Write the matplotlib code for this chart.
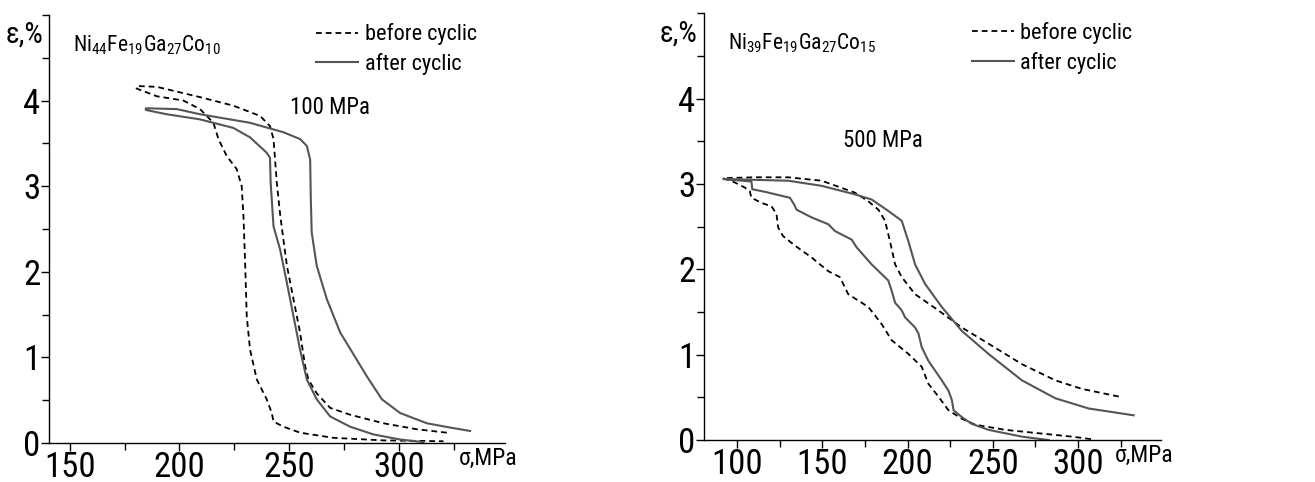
import numpy as np
import matplotlib.pyplot as plt
from matplotlib.ticker import MultipleLocator

FAMS = ['Liberation Sans Narrow', 'Roboto Condensed', 'DejaVu Sans']
plt.rcParams['font.family'] = FAMS
plt.rcParams['mathtext.fontset'] = 'custom'
plt.rcParams['mathtext.rm'] = 'Roboto Condensed'
plt.rcParams['mathtext.it'] = 'Roboto Condensed'

# --- left panel: Ni44Fe19Ga27Co10, 100 MPa ---
# before cyclic, upper (loading) branch
l_bef_up_x = [180.5, 189.7, 209.4, 224.6, 236.8, 241.3, 242.9, 244.4, 246.0, 249.0, 252.0,
              255.0, 257.3, 258.8, 262.6, 268.7, 277.8, 293.0, 308.2, 321.9]
l_bef_up_y = [4.17, 4.16, 4.04, 3.94, 3.82, 3.70, 3.55, 3.04, 2.65, 2.07, 1.68,
              1.29, 0.90, 0.74, 0.58, 0.41, 0.33, 0.23, 0.16, 0.12]
# before cyclic, lower branch
l_bef_lo_x = [180.5, 189.7, 201.8, 209.4, 215.5, 217.8, 221.6, 226.1, 228.4, 229.2, 230.0,
              230.7, 232.2, 235.3, 239.8, 242.1, 242.9, 247.4, 255.0, 270.2, 293.0, 320.4]
l_bef_lo_y = [4.14, 4.05, 4.00, 3.90, 3.74, 3.55, 3.35, 3.20, 3.00, 2.65, 2.07,
              1.48, 1.09, 0.74, 0.51, 0.35, 0.25, 0.19, 0.12, 0.06, 0.03, 0.02]
# after cyclic
l_aft_up_x = [184.7, 198.8, 209.4, 232.2, 247.4, 255.0, 258.1, 259.6, 259.9, 260.3, 262.6,
              267.2, 273.3, 280.9, 285.4, 292.3, 300.6, 312.8, 323.4, 332.5]
l_aft_up_y = [3.91, 3.90, 3.84, 3.74, 3.63, 3.55, 3.47, 3.31, 2.85, 2.46, 2.07,
              1.68, 1.29, 0.97, 0.78, 0.51, 0.35, 0.23, 0.18, 0.14]
l_aft_lo_x = [184.7, 194.2, 209.4, 224.6, 232.2, 239.8, 241.3, 241.6, 242.9, 245.9, 249.0,
              252.0, 255.0, 258.1, 262.6, 268.7, 277.8, 288.4, 300.6, 311.2]
l_aft_lo_y = [3.89, 3.84, 3.78, 3.68, 3.57, 3.39, 3.33, 3.04, 2.53, 2.26, 1.87,
              1.48, 1.09, 0.74, 0.51, 0.31, 0.19, 0.10, 0.04, 0.01]

# --- right panel: Ni39Fe19Ga27Co15, 500 MPa ---
r_bef_up_x = [91.8, 110.4, 130.0, 149.6, 169.1, 176.9, 182.9, 186.8, 189.7, 192.7, 196.6,
              204.4, 218.1, 231.8, 247.5, 267.1, 286.7, 302.3, 323.9]
r_bef_up_y = [3.07, 3.08, 3.08, 3.04, 2.90, 2.80, 2.70, 2.57, 2.33, 2.06, 1.91,
              1.71, 1.52, 1.32, 1.13, 0.89, 0.70, 0.60, 0.51]
r_bef_lo_x = [91.8, 98.6, 104.5, 107.4, 108.4, 114.3, 120.2, 123.1, 124.1, 127.0, 133.9,
              143.7, 153.5, 160.3, 165.2, 177.0, 184.8, 190.7, 200.5, 208.3, 212.2,
              218.1, 224.0, 231.8, 239.7, 257.3, 276.9, 296.5, 308.2]
r_bef_lo_y = [3.07, 3.02, 2.96, 2.92, 2.84, 2.78, 2.74, 2.65, 2.49, 2.39, 2.28,
              2.14, 1.98, 1.91, 1.71, 1.56, 1.36, 1.17, 1.01, 0.86, 0.66,
              0.51, 0.35, 0.25, 0.18, 0.12, 0.08, 0.04, 0.01]
r_aft_up_x = [91.8, 110.4, 130.0, 149.6, 169.1, 178.9, 187.7, 196.6, 200.5, 204.4, 210.3,
              220.1, 231.8, 247.5, 267.1, 286.7, 306.3, 332.7]
r_aft_up_y = [3.06, 3.05, 3.04, 2.98, 2.88, 2.82, 2.70, 2.57, 2.33, 2.06, 1.83,
              1.56, 1.28, 1.01, 0.70, 0.49, 0.37, 0.29]
r_aft_lo_x = [91.8, 108.4, 108.9, 116.3, 131.0, 133.5, 134.9, 143.7, 153.5, 157.4, 167.2,
              170.1, 178.9, 188.7, 190.7, 192.7, 196.6, 198.5, 204.4, 206.4, 208.3,
              212.2, 220.1, 224.0, 226.0, 227.0, 231.8, 237.7, 247.5, 267.1, 282.8]
r_aft_lo_y = [3.06, 3.03, 2.94, 2.91, 2.84, 2.76, 2.70, 2.61, 2.53, 2.45, 2.35,
              2.26, 2.06, 1.87, 1.75, 1.61, 1.52, 1.44, 1.32, 1.25, 1.09,
              0.93, 0.70, 0.58, 0.47, 0.35, 0.27, 0.19, 0.12, 0.04, 0.00]


def loop(up_x, up_y, lo_x, lo_y):
    # join the two branches at their common left end
    x = list(up_x[::-1]) + list(lo_x)
    y = list(up_y[::-1]) + list(lo_y)
    return x, y


fig = plt.figure(figsize=(13.15, 4.82), dpi=100)
ax1 = fig.add_axes([0.037, 0.081, 0.347, 0.888])
ax2 = fig.add_axes([0.535, 0.087, 0.348, 0.885])

panels = [
    (ax1, (l_bef_up_x, l_bef_up_y, l_bef_lo_x, l_bef_lo_y),
     (l_aft_up_x, l_aft_up_y, l_aft_lo_x, l_aft_lo_y),
     (140.4, 348.4), 150, r'$\mathrm{Ni}_{44}\mathrm{Fe}_{19}\mathrm{Ga}_{27}\mathrm{Co}_{10}$',
     '100 MPa', (0.529, 0.783)),
    (ax2, (r_bef_up_x, r_bef_up_y, r_bef_lo_x, r_bef_lo_y),
     (r_aft_up_x, r_aft_up_y, r_aft_lo_x, r_aft_lo_y),
     (80.3, 348.8), 100, r'$\mathrm{Ni}_{39}\mathrm{Fe}_{19}\mathrm{Ga}_{27}\mathrm{Co}_{15}$',
     '500 MPa', (0.305, 0.703)),
]

for ax, bef, aft, xlim, x0, title, stress, spos in panels:
    bx, by = loop(*bef)
    axx, ayy = loop(*aft)
    ax.plot(bx, by, color='black', lw=1.3, ls=(0, (3.2, 2.2)), label='before cyclic')
    ax.plot(axx, ayy, color='#555555', lw=1.5, label='after cyclic')

    ax.set_xlim(*xlim)
    ax.set_ylim(0, 5)
    ax.set_xticks(np.arange(x0, 301, 50))
    ax.xaxis.set_minor_locator(MultipleLocator(25))
    ax.set_yticks([0, 1, 2, 3, 4])
    ax.yaxis.set_minor_locator(MultipleLocator(0.5))
    for s in ['top', 'right']:
        ax.spines[s].set_visible(False)
    for s in ['left', 'bottom']:
        ax.spines[s].set_linewidth(1.0)
    ax.tick_params(which='major', direction='out', length=6, width=1, labelsize=25, pad=0)
    ax.tick_params(which='minor', direction='out', length=5, width=1)

    ax.text(-0.0125, 0.953, 'ε,%', transform=ax.transAxes, ha='right', va='center', fontsize=21)
    ax.text(1.028, -0.037, 'σ,MPa', transform=ax.transAxes, ha='right', va='center', fontsize=17)
    ax.text(0.053, 0.93, title, transform=ax.transAxes, ha='left', va='center', fontsize=15.5)
    ax.text(spos[0], spos[1], stress, transform=ax.transAxes, ha='left', va='center', fontsize=16.5)

    ax.legend(loc='upper left', bbox_to_anchor=(0.542, 1.027), frameon=False, fontsize=16,
              handlelength=1.9, handletextpad=0.3, labelspacing=0.35)

plt.savefig('out.png', dpi=100)
